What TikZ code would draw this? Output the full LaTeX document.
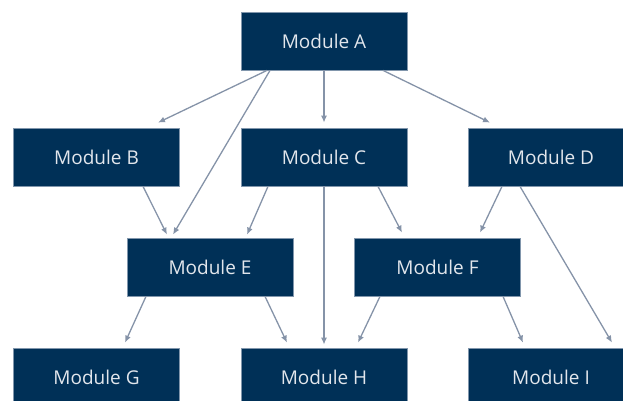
\documentclass[tikz,border=0pt]{standalone}
\usepackage{fontspec}
\setmainfont{Open Sans}
\usetikzlibrary{arrows.meta}

\definecolor{navy}{HTML}{003057}
\definecolor{rim}{HTML}{8196AC}
\definecolor{link}{HTML}{8593A8}
\definecolor{label}{HTML}{E2E6EC}

\begin{document}
\begin{tikzpicture}[x=1pt,y=-1pt]

\tikzset{
    module/.style={rectangle,draw=rim,line width=0.8pt,fill=navy,text=label,
        minimum width=166pt,minimum height=58pt,inner sep=0pt,
        font=\fontsize{19}{22}\selectfont},
    edge/.style={draw=link,line width=1.3pt,-{Latex[length=7pt,width=6pt]}}}

\useasboundingbox (0,0) rectangle (623,400);
\clip (0,0) rectangle (623,400);

\node[module] (a) at (324,41) {Module A};

\node[module] (b) at (96.5,157) {Module B};
\node[module] (c) at (324,157) {Module C};
\node[module] (d) at (551,157) {Module D};

\node[module] (e) at (210,267) {Module E};
\node[module] (f) at (437.5,267) {Module F};

\node[module] (g) at (96.5,377) {Module G};
\node[module] (h) at (324,377) {Module H};
\node[module] (i) at (551,377) {Module I};

\draw[edge] ([xshift=-57pt]a.south) -- ([xshift=61.5pt,yshift=5pt]b.north);
\draw[edge] ([xshift=-54pt]a.south) -- ([xshift=-37pt,yshift=3pt]e.north);
\draw[edge] (a.south) -- ([yshift=5pt]c.north);
\draw[edge] ([xshift=59pt]a.south) -- ([xshift=-61pt,yshift=5pt]d.north);

\draw[edge] ([xshift=46.5pt]b.south) -- ([xshift=-43pt,yshift=3pt]e.north);
\draw[edge] ([xshift=-56pt]c.south) -- ([xshift=37pt,yshift=3pt]e.north);
\draw[edge] (c.south) -- ([yshift=3pt]h.north);
\draw[edge] ([xshift=54pt]c.south) -- ([xshift=-35.5pt,yshift=5pt]f.north);
\draw[edge] ([xshift=-49pt]d.south) -- ([xshift=42.5pt,yshift=5pt]f.north);
\draw[edge] ([xshift=-31pt]d.south) -- ([xshift=61pt,yshift=5pt]i.north);

\draw[edge] ([xshift=-64pt]e.south) -- ([xshift=28.5pt,yshift=5pt]g.north);
\draw[edge] ([xshift=55pt]e.south) -- ([xshift=-37pt,yshift=5pt]h.north);
\draw[edge] ([xshift=-57.5pt]f.south) -- ([xshift=34pt,yshift=5pt]h.north);
\draw[edge] ([xshift=65.5pt]f.south) -- ([xshift=-28pt,yshift=5pt]i.north);

\end{tikzpicture}
\end{document}
